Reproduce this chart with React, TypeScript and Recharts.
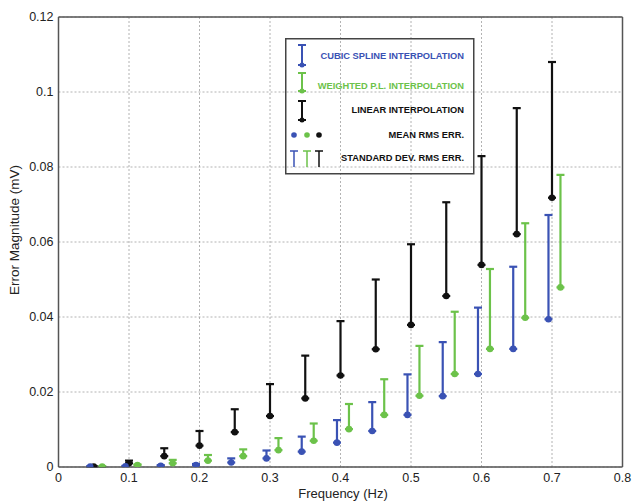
import React from "react";
import {
  ScatterChart,
  Scatter,
  XAxis,
  YAxis,
  CartesianGrid,
  ErrorBar,
  ReferenceLine,
} from "recharts";

const xTicks = [0, 0.1, 0.2, 0.3, 0.4, 0.5, 0.6, 0.7, 0.8];
const yTicks = [0, 0.02, 0.04, 0.06, 0.08, 0.1, 0.12];

const freqCubic = [0.045, 0.095, 0.145, 0.195, 0.245, 0.295, 0.345, 0.395, 0.445, 0.495, 0.545, 0.595, 0.645, 0.695];
const freqLinear = [0.05, 0.1, 0.15, 0.2, 0.25, 0.3, 0.35, 0.4, 0.45, 0.5, 0.55, 0.6, 0.65, 0.7];
const freqWeighted = [0.062, 0.112, 0.162, 0.212, 0.262, 0.312, 0.362, 0.412, 0.462, 0.512, 0.562, 0.612, 0.662, 0.712];

const meanCubic = [0.0001, 0.0002, 0.0003, 0.0005, 0.0012, 0.0023, 0.0041, 0.0065, 0.0096, 0.0139, 0.0189, 0.0248, 0.0315, 0.0394];
const stdCubic = [0.0001, 0.0001, 0.0002, 0.0003, 0.0011, 0.0021, 0.004, 0.006, 0.0077, 0.0108, 0.0144, 0.0177, 0.0219, 0.0278];

const meanWeighted = [0.0001, 0.0005, 0.001, 0.0017, 0.0029, 0.0045, 0.007, 0.0101, 0.0139, 0.019, 0.0248, 0.0315, 0.0398, 0.0479];
const stdWeighted = [0.0001, 0.0002, 0.0009, 0.0015, 0.0018, 0.0032, 0.0046, 0.0067, 0.0095, 0.0133, 0.0166, 0.0213, 0.0252, 0.03];

const meanLinear = [0.0001, 0.001, 0.0029, 0.0057, 0.0093, 0.0136, 0.0183, 0.0244, 0.0314, 0.0379, 0.0456, 0.0539, 0.0621, 0.0718];
const stdLinear = [0.0001, 0.0007, 0.0021, 0.0039, 0.0061, 0.0085, 0.0114, 0.0145, 0.0186, 0.0215, 0.025, 0.029, 0.0336, 0.0362];

const BLUE = "#3a52b4";
const GREEN = "#6cc24a";
const BLACK = "#111111";

const build = (xs: number[], means: number[], stds: number[]) =>
  xs.map((x, i) => ({ x, y: means[i], err: [0, stds[i]] }));

const cubicData = build(freqCubic, meanCubic, stdCubic);
const weightedData = build(freqWeighted, meanWeighted, stdWeighted);
const linearData = build(freqLinear, meanLinear, stdLinear);

const dot = (color: string) => (props: any) => (
  <circle cx={props.cx} cy={props.cy} r={3.3} fill={color} />
);

const FONT = "'Liberation Sans', Arial, sans-serif";

const LegendBox = () => {
  const txt = (y: number, s: string, c: string) => (
    <text x={179} y={y} textAnchor="end" dominantBaseline="central" fontSize={9.3} fontWeight="bold" fill={c} fontFamily={FONT}>
      {s}
    </text>
  );
  const ibar = (x: number, y1: number, y2: number, c: string) => (
    <g stroke={c} strokeWidth={2}>
      <line x1={x} x2={x} y1={y1} y2={y2} />
      <line x1={x - 4} x2={x + 4} y1={y1} y2={y1} />
      <line x1={x - 4} x2={x + 4} y1={y2} y2={y2} />
      <circle cx={x} cy={y2} r={2.5} fill={c} stroke="none" />
    </g>
  );
  const tbar = (x: number, c: string) => (
    <g stroke={c} strokeWidth={1.5}>
      <line x1={x} x2={x} y1={113} y2={129} />
      <line x1={x - 4} x2={x + 4} y1={113} y2={113} />
    </g>
  );
  return (
    <svg width={190} height={137} style={{ display: "block" }}>
      <rect x={0.75} y={0.75} width={188} height={135} fill="none" stroke="#444" strokeWidth={1.5} />
      {ibar(17, 7, 27, BLUE)}
      {txt(18, "CUBIC SPLINE INTERPOLATION", BLUE)}
      {ibar(17, 35, 53, GREEN)}
      {txt(48, "WEIGHTED P.L. INTERPOLATION", GREEN)}
      {ibar(17, 63, 82, BLACK)}
      {txt(72, "LINEAR INTERPOLATION", BLACK)}
      <circle cx={9} cy={97} r={2.8} fill={BLUE} />
      <circle cx={22} cy={97} r={2.8} fill={GREEN} />
      <circle cx={34} cy={97} r={2.8} fill={BLACK} />
      {txt(97, "MEAN RMS ERR.", BLACK)}
      {tbar(9, BLUE)}
      {tbar(22, GREEN)}
      {tbar(34, BLACK)}
      {txt(120, "STANDARD DEV. RMS ERR.", BLACK)}
    </svg>
  );
};

export default function App() {
  return (
    <div style={{ position: "absolute", left: 0, top: 0, width: 638, height: 501, background: "#fff" }}>
      <ScatterChart width={638} height={501} margin={{ top: 17, right: 15.5, bottom: 4, left: 0 }}>
        <CartesianGrid stroke="#a0a0a0" strokeDasharray="2 2" strokeWidth={0.8} />
        <XAxis
          type="number"
          dataKey="x"
          domain={[0, 0.8]}
          ticks={xTicks}
          height={30}
          tickLine={false}
          tickSize={5}
          tickMargin={1}
          axisLine={{ stroke: "#555", strokeWidth: 1.5 }}
          tick={{ fill: "#222", fontSize: 12.5, fontFamily: FONT }}
          allowDataOverflow
          label={(p: any) => (
            <text x={343} y={498} textAnchor="middle" fontSize={13} fill="#222" fontFamily={FONT}>
              Frequency (Hz)
            </text>
          )}
        />
        <YAxis
          type="number"
          dataKey="y"
          domain={[0, 0.12]}
          ticks={yTicks}
          width={58.5}
          tickLine={false}
          tickSize={3}
          tickMargin={2}
          axisLine={{ stroke: "#555", strokeWidth: 1.5 }}
          tick={{ fill: "#222", fontSize: 12.5, fontFamily: FONT }}
          allowDataOverflow
          label={(p: any) => (
            <text x={19} y={230} transform="rotate(-90 19 230)" textAnchor="middle" fontSize={13.5} fill="#222" fontFamily={FONT}>
              Error Magnitude (mV)
            </text>
          )}
        />
        <ReferenceLine y={0.12} stroke="#555" strokeWidth={1.5} />
        <ReferenceLine x={0.8} stroke="#555" strokeWidth={1.5} />
        <Scatter data={linearData} fill={BLACK} shape={dot(BLACK)} isAnimationActive={false}>
          <ErrorBar dataKey="err" direction="y" width={4} stroke={BLACK} strokeWidth={2.2} />
        </Scatter>
        <Scatter data={cubicData} fill={BLUE} shape={dot(BLUE)} isAnimationActive={false}>
          <ErrorBar dataKey="err" direction="y" width={4} stroke={BLUE} strokeWidth={2.2} />
        </Scatter>
        <Scatter data={weightedData} fill={GREEN} shape={dot(GREEN)} isAnimationActive={false}>
          <ErrorBar dataKey="err" direction="y" width={4} stroke={GREEN} strokeWidth={2.2} />
        </Scatter>
      </ScatterChart>
      <div style={{ position: "absolute", left: 285, top: 38, width: 190, height: 137 }}>
        <LegendBox />
      </div>
    </div>
  );
}
